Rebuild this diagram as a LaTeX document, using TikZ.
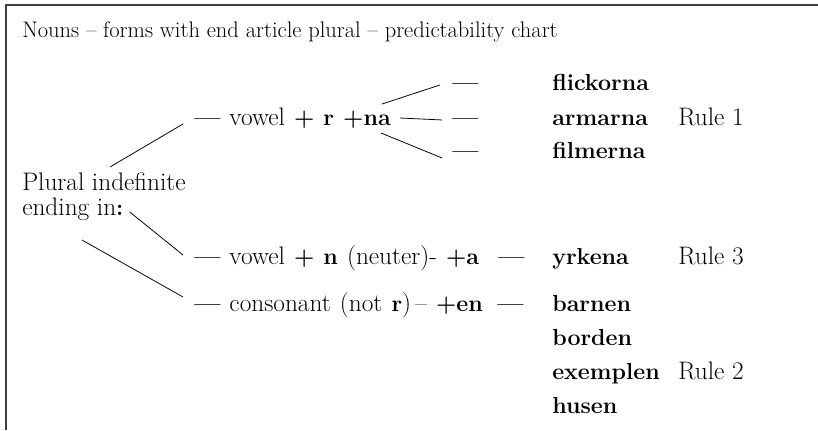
\documentclass[tikz,border=0pt]{standalone}
\usepackage{tikz}
\usepackage{amssymb}
\usepackage{amsmath}
\newcommand\widesp{\spaceskip 0.36em\relax}
\newcommand\bform[1]{{\fontsize{16.5}{19}\selectfont\bfseries #1}}

\begin{document}
\begin{tikzpicture}[x=0.025cm,y=-0.025cm,
   every node/.style={inner sep=0pt,anchor=base west,font=\fontsize{18}{21}\selectfont},
   head/.style={font=\fontsize{16}{19}\selectfont},
   branch/.style={font=\fontsize{18}{21}\selectfont\widesp},
   conn/.style={line width=0.55pt},
   frame/.style={line width=0.8pt,black!75}]
   \useasboundingbox (0,0) rectangle (818,430);
   \draw[frame] (6,430) -- (6,5) -- (818,5);
   \path (22,37) node[head] (title) {Nouns \textendash\ forms with end article plural \textendash\ predictability chart};
   \path (22,190) node (pl) {Plural indefinite};
   \path (22,215) node (ein) {ending in\bform{:}};
   \path (194,125) node[branch] (vr) {\bform{\textemdash} vowel \bform{+ r +na}};
   \path (194,264) node[branch] (vn) {\bform{\textemdash} vowel \bform{+ n} (neuter)-\ \bform{+a}};
   \path (194,311) node[branch] (cons) {\bform{\textemdash} consonant (not \bform{r})\,\textendash\ \bform{+en}};
   \path (452,90) node (d1) {\bform{\textemdash}};
   \path (452,125) node (d2) {\bform{\textemdash}};
   \path (452,158) node (d3) {\bform{\textemdash}};
   \path (498,264) node (d4) {\bform{\textemdash}};
   \path (497,311) node (d5) {\bform{\textemdash}};
   \path (552,90) node (flickorna) {\bform{flickorna}};
   \path (552,125) node (armarna) {\bform{armarna}};
   \path (552,158) node (filmerna) {\bform{filmerna}};
   \path (552,264) node (yrkena) {\bform{yrkena}};
   \path (552,311) node (barnen) {\bform{barnen}};
   \path (552,345) node (borden) {\bform{borden}};
   \path (552,379) node (exemplen) {\bform{exemplen}};
   \path (552,413) node (husen) {\bform{husen}};
   \path (678,125) node (rule1) {Rule 1};
   \path (678,264) node (rule3) {Rule 3};
   \path (678,379) node (rule2) {Rule 2};
   \draw[conn] ([shift={(88,-23)}]pl.base west) -- ([shift={(-11,2)}]vr.mid west);
   \draw[conn] ([shift={(-9,-21)}]vr.base east) -- ([shift={(-12,-2)}]d1.mid west);
   \draw[conn] ([shift={(9,-7)}]vr.base east) -- ([shift={(-10,-2)}]d2.mid west);
   \draw[conn] ([shift={(-10,8)}]vr.base east) -- ([shift={(-10,3)}]d3.mid west);
   \draw[conn] ([shift={(6,-3)}]ein.base east) -- ([shift={(-11,-6)}]vn.mid west);
   \draw[conn] ([shift={(60,25)}]ein.base west) -- ([shift={(-11,-11)}]cons.mid west);
\end{tikzpicture}
\end{document}
